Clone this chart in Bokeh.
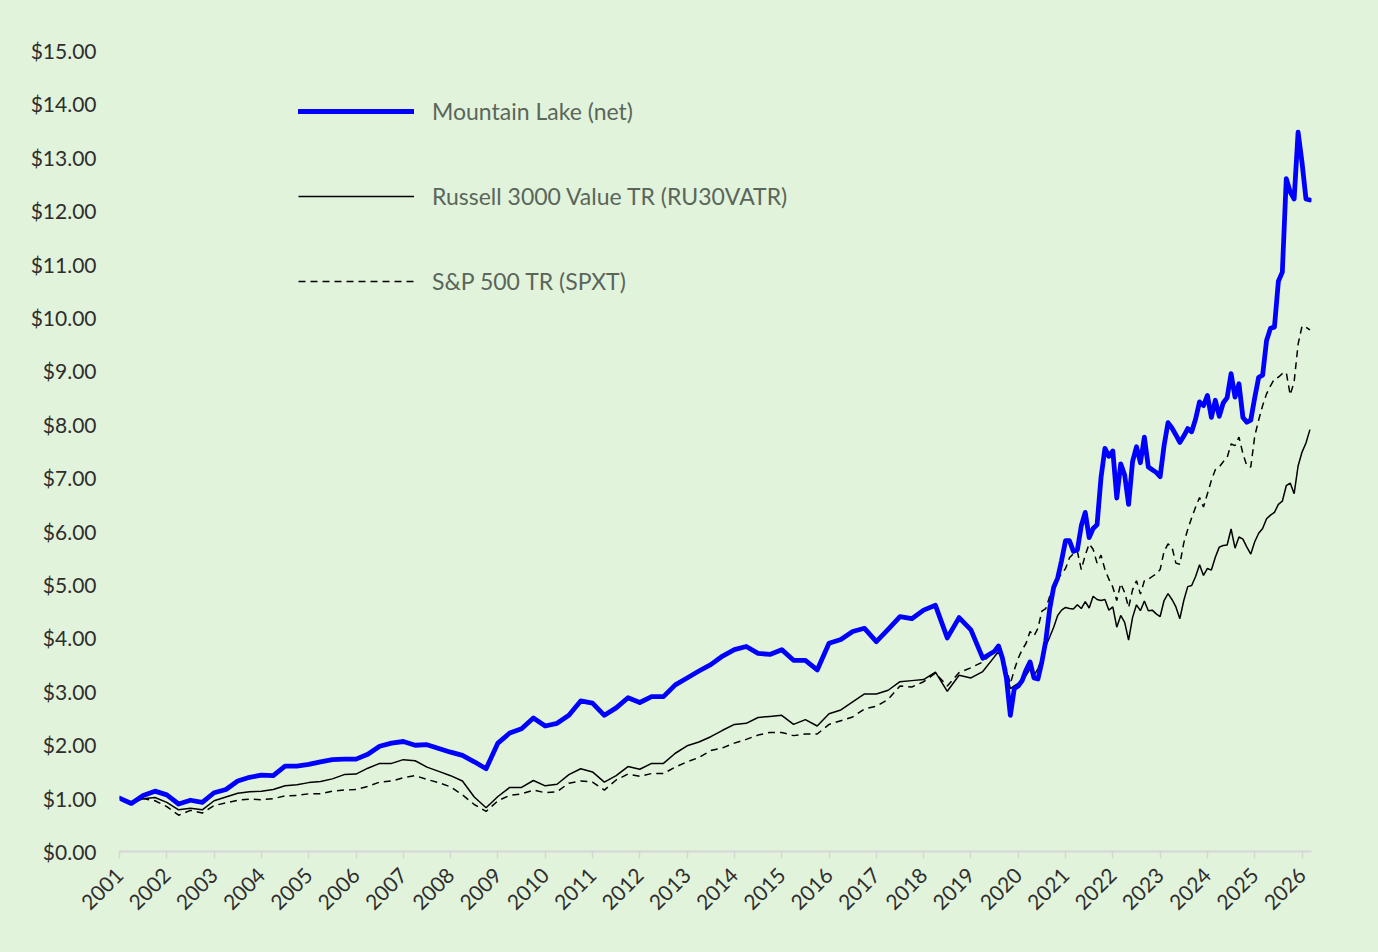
from bokeh.plotting import figure
from bokeh.models import Range1d, FixedTicker, NumeralTickFormatter, Legend, LegendItem, ColumnDataSource
from bokeh.embed import file_html
from bokeh.resources import INLINE

# ---- data -------------------------------------------------------------
year_ticks = list(range(2001, 2027))
year_labels = [str(y) for y in year_ticks]
y_ticks = list(range(0, 16))

# date grid: quarterly 2001.00 .. 2019.25, then monthly 2019.50 .. 2026.17
dates = [2001 + q / 4 for q in range(74)] + [2019.5 + m / 12 for m in range(81)]

mountain_lake = [
    1.00, 0.90, 1.05, 1.13, 1.06, 0.89, 0.96, 0.92, 1.10, 1.16, 1.32, 1.39,
    1.43, 1.42, 1.60, 1.60, 1.63, 1.68, 1.72, 1.73, 1.73, 1.82, 1.97, 2.03,
    2.06, 1.99, 2.00, 1.93, 1.86, 1.80, 1.68, 1.55, 2.03, 2.22, 2.30, 2.50,
    2.35, 2.40, 2.55, 2.82, 2.78, 2.55, 2.69, 2.88, 2.79, 2.90, 2.90, 3.12,
    3.25, 3.38, 3.50, 3.66, 3.78, 3.84, 3.71, 3.69, 3.78, 3.58, 3.58, 3.40,
    3.90, 3.97, 4.12, 4.18, 3.93, 4.16, 4.40, 4.36, 4.52, 4.61, 4.00, 4.38,
    4.15, 3.62,
    3.75, 3.85, 3.62, 3.25, 2.55, 3.05, 3.10, 3.20, 3.40, 3.55,
    3.25, 3.23, 3.55, 3.95, 4.55, 4.95, 5.12, 5.45, 5.82, 5.82,
    5.62, 5.65, 6.10, 6.35, 5.88, 6.05, 6.12, 7.00, 7.55, 7.40,
    7.50, 6.62, 7.26, 7.05, 6.50, 7.30, 7.58, 7.28, 7.76, 7.20,
    7.15, 7.10, 7.02, 7.60, 8.03, 7.93, 7.80, 7.66, 7.78, 7.92,
    7.86, 8.10, 8.42, 8.35, 8.54, 8.13, 8.45, 8.15, 8.40, 8.50,
    8.95, 8.51, 8.76, 8.13, 8.04, 8.08, 8.50, 8.88, 8.92, 9.57,
    9.80, 9.82, 10.68, 10.85, 12.60, 12.35, 12.22, 13.47, 12.90, 12.22,
    12.20,
]

russell_3000_value = [
    1.00, 0.90, 0.99, 1.01, 0.92, 0.78, 0.81, 0.78, 0.95, 1.02, 1.09, 1.12,
    1.13, 1.16, 1.23, 1.25, 1.29, 1.31, 1.36, 1.44, 1.45, 1.56, 1.65, 1.65,
    1.72, 1.70, 1.58, 1.50, 1.42, 1.32, 1.02, 0.82, 1.03, 1.20, 1.20, 1.33,
    1.23, 1.26, 1.44, 1.55, 1.49, 1.30, 1.42, 1.59, 1.54, 1.65, 1.65, 1.84,
    1.98, 2.05, 2.15, 2.27, 2.38, 2.40, 2.51, 2.53, 2.55, 2.38, 2.47, 2.35,
    2.58, 2.65, 2.80, 2.95, 2.95, 3.02, 3.18, 3.20, 3.22, 3.36, 3.00, 3.30,
    3.25, 3.37,
    3.65, 3.74, 3.58, 3.36, 3.05, 3.10, 3.15, 3.18, 3.30, 3.42,
    3.30, 3.42, 3.62, 3.85, 4.02, 4.20, 4.42, 4.52, 4.57, 4.55,
    4.54, 4.62, 4.55, 4.68, 4.56, 4.78, 4.72, 4.70, 4.72, 4.52,
    4.58, 4.20, 4.42, 4.29, 3.96, 4.38, 4.62, 4.51, 4.69, 4.51,
    4.52, 4.45, 4.40, 4.70, 4.83, 4.72, 4.58, 4.36, 4.70, 4.96,
    4.98, 5.15, 5.37, 5.17, 5.30, 5.27, 5.51, 5.70, 5.73, 5.74,
    6.04, 5.68, 5.89, 5.85, 5.70, 5.57, 5.80, 5.96, 6.05, 6.23,
    6.30, 6.35, 6.50, 6.56, 6.85, 6.90, 6.70, 7.22, 7.48, 7.65,
    7.90,
]

sp500 = [
    1.00, 0.92, 0.99, 0.95, 0.84, 0.68, 0.77, 0.72, 0.86, 0.91, 0.96, 0.98,
    0.97, 0.99, 1.04, 1.05, 1.08, 1.08, 1.13, 1.15, 1.16, 1.22, 1.30, 1.32,
    1.38, 1.42, 1.35, 1.29, 1.21, 1.06, 0.88, 0.75, 0.95, 1.05, 1.08, 1.15,
    1.10, 1.12, 1.28, 1.32, 1.30, 1.15, 1.34, 1.45, 1.41, 1.46, 1.46, 1.58,
    1.68, 1.76, 1.89, 1.94, 2.03, 2.10, 2.18, 2.23, 2.23, 2.17, 2.20, 2.20,
    2.38, 2.45, 2.52, 2.67, 2.72, 2.85, 3.10, 3.08, 3.18, 3.34, 3.10, 3.35,
    3.44, 3.55,
    3.75, 3.83, 3.60, 3.42, 3.14, 3.40, 3.62, 3.78, 3.90, 4.12,
    4.04, 4.18, 4.50, 4.55, 4.78, 4.95, 5.10, 5.20, 5.30, 5.50,
    5.58, 5.62, 5.28, 5.55, 5.76, 5.66, 5.40, 5.55, 5.28, 5.10,
    4.95, 4.70, 5.02, 4.85, 4.57, 4.90, 5.07, 4.82, 5.07, 5.10,
    5.15, 5.20, 5.28, 5.62, 5.76, 5.70, 5.40, 5.38, 5.78, 6.03,
    6.25, 6.45, 6.63, 6.45, 6.70, 6.95, 7.15, 7.20, 7.30, 7.38,
    7.63, 7.60, 7.76, 7.45, 7.22, 7.20, 7.78, 8.08, 8.35, 8.57,
    8.72, 8.85, 8.88, 8.95, 8.97, 8.55, 8.80, 9.50, 9.84, 9.82,
    9.77,
]

series_names = ["Mountain Lake (net)", "Russell 3000 Value TR (RU30VATR)", "S&P 500 TR (SPXT)"]

# ---- figure -----------------------------------------------------------
BG = "#e2f3dc"
FONT = "Lato"

src = ColumnDataSource(dict(x=dates, ml=mountain_lake, rv=russell_3000_value, sp=sp500))

p = figure(
    frame_width=1192, frame_height=817,
    min_border_left=119, min_border_right=50, min_border_top=34, min_border_bottom=85,
    x_range=Range1d(2001, 2026.2), y_range=Range1d(0, 15.3),
    output_backend="svg", toolbar_location=None,
    background_fill_color=BG, border_fill_color=BG,
)
p.outline_line_color = None
p.xgrid.visible = False
p.ygrid.visible = False

r_sp = p.line("x", "sp", source=src, line_color="black", line_width=1.5, line_dash="7 5")
r_rv = p.line("x", "rv", source=src, line_color="black", line_width=1.5)
r_ml = p.line("x", "ml", source=src, line_color="#0000ff", line_width=4.8,
              line_cap="round", line_join="round")

# axes
xa = p.xaxis[0]
xa.ticker = FixedTicker(ticks=year_ticks)
xa.major_label_overrides = {t: l for t, l in zip(year_ticks, year_labels)}
xa.major_label_orientation = 0.785398
xa.axis_line_color = "#d6d6d6"
xa.axis_line_width = 2
xa.major_tick_line_color = "#d6d6d6"
xa.major_tick_line_width = 1.5
xa.major_tick_in = 0
xa.major_tick_out = 7
xa.minor_tick_line_color = None
xa.major_label_text_font = FONT
xa.major_label_text_font_size = "21px"
xa.major_label_text_color = "#2e2e2e"
xa.major_label_standoff = 13

ya = p.yaxis[0]
ya.ticker = FixedTicker(ticks=y_ticks)
ya.formatter = NumeralTickFormatter(format="$0.00")
ya.axis_line_color = None
ya.major_tick_line_color = None
ya.minor_tick_line_color = None
ya.major_label_text_font = FONT
ya.major_label_text_font_size = "21px"
ya.major_label_text_color = "#2e2e2e"
ya.major_label_standoff = 17

legend = Legend(
    items=[LegendItem(label=series_names[0], renderers=[r_ml]),
           LegendItem(label=series_names[1], renderers=[r_rv]),
           LegendItem(label=series_names[2], renderers=[r_sp])],
    location=(179, 556),
    glyph_width=116, glyph_height=20, label_height=20,
    label_standoff=18, spacing=57, padding=0, margin=0,
    border_line_color=None, background_fill_alpha=0,
    label_text_font=FONT, label_text_font_size="23px", label_text_color="#5a665a",
)
p.add_layout(legend)

html = file_html(p, INLINE)
html = html.replace("<head>", "<head><style>html,body{background:%s;}</style>" % BG, 1)
open("out.html", "w").write(html)
